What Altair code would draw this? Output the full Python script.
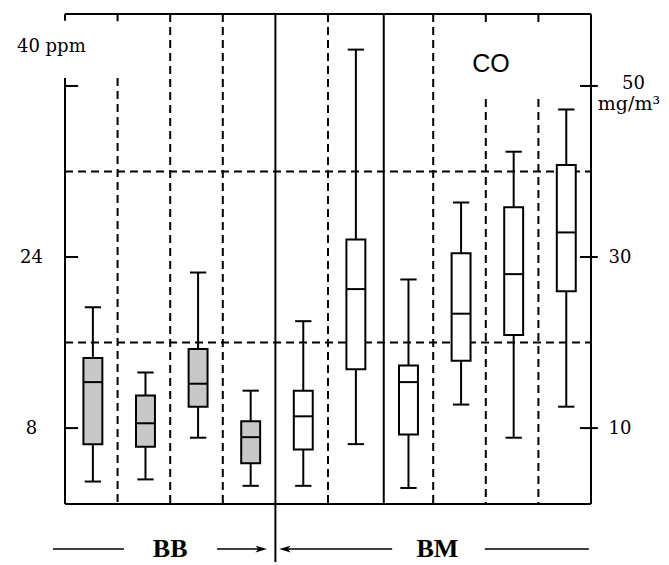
import altair as alt
import pandas as pd

# ---- data (ppm) ----
groups = ["BB", "BB", "BB", "BB", "BM", "BM", "BM", "BM", "BM", "BM"]
whisker_low = [3.0, 3.2, 7.1, 2.6, 2.6, 6.5, 2.4, 10.2, 7.1, 10.0]
q1 = [6.5, 6.25, 10.0, 4.7, 6.0, 13.5, 7.4, 14.3, 16.7, 20.8]
median = [12.3, 8.45, 12.15, 7.15, 9.1, 21.0, 12.3, 18.7, 22.4, 26.3]
q3 = [14.55, 11.05, 15.4, 8.65, 11.5, 25.65, 13.85, 24.35, 28.65, 32.6]
whisker_high = [19.3, 13.2, 22.55, 11.5, 18.0, 43.4, 21.9, 29.1, 33.85, 37.8]

ppm_ticks = [8, 24, 40]
ppm_to_mg = 1.25
grid_ppm = [16, 32]

Y_MIN, Y_MAX = 0.9, 46.73
X_MIN, X_MAX = 0, 10

df = pd.DataFrame({
    "group": groups, "lo": whisker_low, "q1": q1, "med": median,
    "q3": q3, "hi": whisker_high,
})
df["pos"] = [i + 0.53 for i in range(len(df))]

xs = alt.Scale(domain=[X_MIN, X_MAX], nice=False, zero=False)
ys = alt.Scale(domain=[Y_MIN, Y_MAX], nice=False, zero=False)

def X(f):
    return alt.X(f, type="quantitative", scale=xs, axis=None)

def Y(f):
    return alt.Y(f, type="quantitative", scale=ys, axis=None)

base = alt.Chart(df).transform_calculate(
    bl="datum.pos - 0.18", br="datum.pos + 0.18",
    cl="datum.pos - 0.155", cr="datum.pos + 0.155",
)

whisk = base.mark_rule(color="black", strokeWidth=2).encode(
    x=X("pos"), y=Y("lo"), y2="hi")
cap_lo = base.mark_rule(color="black", strokeWidth=2).encode(
    x=X("cl"), x2="cr", y=Y("lo"))
cap_hi = base.mark_rule(color="black", strokeWidth=2).encode(
    x=X("cl"), x2="cr", y=Y("hi"))
box = base.mark_rect(stroke="black", strokeWidth=2).encode(
    x=X("bl"), x2="br", y=Y("q1"), y2="q3",
    fill=alt.Fill("group:N", scale=alt.Scale(domain=["BB", "BM"], range=["#c8c8c8", "#ffffff"]), legend=None))
med = base.mark_rule(color="black", strokeWidth=2).encode(
    x=X("bl"), x2="br", y=Y("med"))

# ---- frame and divider lines (layout) ----
solid_segs = pd.DataFrame([
    # x, x2, y, y2
    (X_MIN, X_MAX, Y_MAX, Y_MAX),       # top
    (X_MIN, X_MAX, Y_MIN, Y_MIN),       # bottom
    (X_MAX, X_MAX, Y_MIN, Y_MAX),       # right
    (X_MIN, X_MIN, 46.1, Y_MAX),        # left, above label
    (X_MIN, X_MIN, Y_MIN, 40.74),       # left
    (4, 4, -4.9, Y_MAX),                # BB / BM divider
    (6.06, 6.06, Y_MIN, Y_MAX),
], columns=["x", "x2", "y", "y2"])

dash_segs = pd.DataFrame([
    (X_MIN, X_MAX, 16, 16),
    (X_MIN, X_MAX, 32, 32),
    (1, 1, Y_MAX, 46.05), (1, 1, 40.74, Y_MIN),
    (2, 2, Y_MAX, Y_MIN),
    (3, 3, Y_MAX, Y_MIN),
    (5, 5, Y_MAX, Y_MIN),
    (7, 7, Y_MAX, Y_MIN),
    (8, 8, Y_MAX, 45.9), (8, 8, 38.77, Y_MIN),
    (9, 9, Y_MAX, 45.9), (9, 9, 38.77, Y_MIN),
], columns=["x", "x2", "y", "y2"])

solid = alt.Chart(solid_segs).mark_rule(color="black", strokeWidth=2).encode(
    x=X("x"), x2="x2", y=Y("y"), y2="y2")
dashed = alt.Chart(dash_segs).mark_rule(color="black", strokeWidth=2, strokeDash=[8, 5]).encode(
    x=X("x"), x2="x2", y=Y("y"), y2="y2")

# bottom annotation
bottom_y = -3.32
ann_lines = pd.DataFrame({
    "x": [-0.228, 2.89, 4.19, 7.98],
    "x2": [1.12, 3.7, 6.22, 9.96],
    "y": [bottom_y] * 4,
})
ann = alt.Chart(ann_lines).mark_rule(color="black", strokeWidth=1.5).encode(
    x=X("x"), x2="x2", y=Y("y"))
arrows = pd.DataFrame({"x": [3.73, 4.18], "y": [bottom_y, bottom_y],
                       "dir": ["r", "l"]})
arrow_r = alt.Chart(arrows).transform_filter("datum.dir == 'r'").mark_point(
    shape="M1,0L-1,-0.6L-0.5,0L-1,0.6Z", filled=True, color="black", size=130, opacity=1
).encode(x=X("x"), y=Y("y"))
arrow_l = alt.Chart(arrows).transform_filter("datum.dir == 'l'").mark_point(
    shape="M-1,0L1,-0.6L0.5,0L1,0.6Z", filled=True, color="black", size=130, opacity=1
).encode(x=X("x"), y=Y("y"))

group_labels = pd.DataFrame({"t": ["BB", "BM"], "x": [2.0, 7.08], "y": [bottom_y, bottom_y]})
glab = alt.Chart(group_labels).mark_text(
    font="Liberation Serif", fontSize=26, fontWeight="bold", color="black",
    align="center", baseline="alphabetic", dy=8
).encode(x=X("x"), y=Y("y"), text="t:N")

co = alt.Chart(pd.DataFrame({"t": ["CO"], "x": [8.1], "y": [42.05]})).mark_text(
    font="Liberation Sans", fontSize=25, color="black", align="center", baseline="middle"
).encode(x=X("x"), y=Y("y"), text="t:N")

unit_labels = pd.DataFrame({
    "t": ["40 ppm", "50"],
    "x": [-0.913, 10.59],
    "y": [43.17, 39.7],
})
ulab = alt.Chart(unit_labels).mark_text(
    font="DejaVu Serif", fontSize=18, color="black", align="left", baseline="alphabetic"
).encode(x=X("x"), y=Y("y"), text="t:N")

mg = alt.Chart(pd.DataFrame({"t": ["mg/m³"], "x": [10.13], "y": [37.75]})).mark_text(
    font="DejaVu Serif", fontSize=19, color="black", align="left", baseline="alphabetic"
).encode(x=X("x"), y=Y("y"), text="t:N")

main = alt.layer(dashed, solid, whisk, cap_lo, cap_hi, box, med,
                 ann, arrow_r, arrow_l, glab, co, ulab, mg)

# ---- axes (ticks drawn as rules, labels by axes) ----
tick_df = pd.DataFrame({"v": ppm_ticks})
left_ax = alt.Chart(tick_df).transform_calculate(a="0", b="0.25").mark_rule(
    color="black", strokeWidth=2).encode(
    x=X("a"), x2="b",
    y=alt.Y("v:Q", scale=ys, axis=alt.Axis(
        orient="left", values=[8, 24], ticks=False, tickSize=0, domain=False, grid=False,
        labelAlign="center", labelBaseline="middle", labelPadding=34, title=None,
        labelFont="DejaVu Serif", labelFontSize=18, labelColor="black")))
right_ax = alt.Chart(tick_df).transform_calculate(a="9.79", b="10.13").mark_rule(
    color="black", strokeWidth=2).encode(
    x=X("a"), x2="b",
    y=alt.Y("v:Q", scale=ys, axis=alt.Axis(
        orient="right", values=[8, 24], ticks=False, tickSize=0, domain=False, grid=False,
        labelExpr=f"format(datum.value * {ppm_to_mg}, 'd')",
        labelAlign="left", labelBaseline="middle", labelPadding=17, title=None,
        labelFont="DejaVu Serif", labelFontSize=18, labelColor="black")))

chart = alt.layer(main, left_ax, right_ax).resolve_scale(y="independent").properties(
    width=526, height=490,
    autosize=alt.AutoSizeParams(type="none"),
    padding={"left": 57, "top": 6, "right": 70, "bottom": 58},
    background="white",
).configure_view(stroke=None)

chart.save("out.html", embed_options={"renderer": "svg", "actions": False})
